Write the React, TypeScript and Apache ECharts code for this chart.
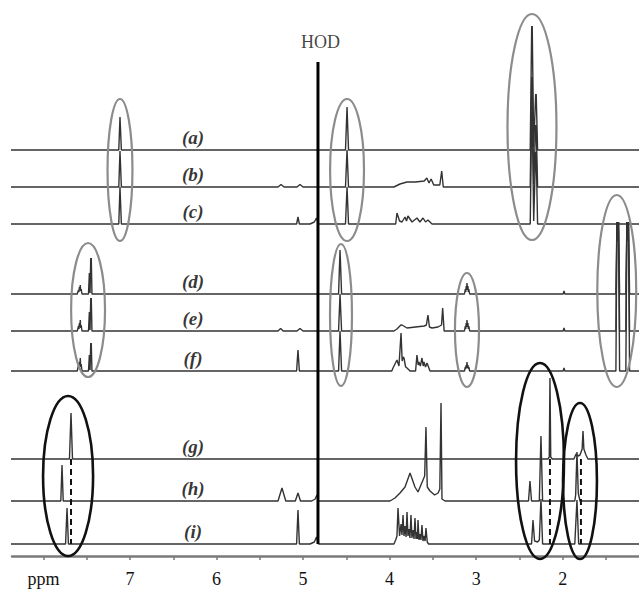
import React, { useEffect, useRef } from "react";
import * as echarts from "echarts";

// ppm axis range (inverted) and tick/label positions
const XMIN = 1.118;
const XMAX = 8.364;
const tickValues = [1.5, 2, 2.5, 3, 3.5, 4, 4.5, 5, 5.5, 6, 6.5, 7, 7.5, 8];
const labelValues = [2, 3, 4, 5, 6, 7, 8];

// spectra names and baseline offsets
const names = ["(a)", "(b)", "(c)", "(d)", "(e)", "(f)", "(g)", "(h)", "(i)"];
const baselines = [406, 369, 332, 262, 225, 185, 97, 55, 12];
const labelPpm = 6.272;

// each spectrum: trace vertices [ppm, intensity above its baseline]
const specA = [[8.4,0],[7.13,0],[7.116,33],[7.10,0],[4.51,0],[4.492,43],[4.475,0],[2.375,0],[2.358,124],[2.355,110],[2.352,124],[2.335,3],[2.312,56],[2.309,48],[2.306,56],[2.29,0],[1.1,0]];
const specB = [[8.4,0],[7.13,0],[7.116,36],[7.10,0],[5.29,0],[5.255,2.5],[5.22,0],[5.07,0],[5.036,2.5],[5.0,0],[4.51,0],[4.492,37],[4.475,0],[3.95,0],[3.88,3],[3.80,5],[3.70,5],[3.60,6],[3.57,9],[3.545,4],[3.52,8],[3.49,2],[3.42,2],[3.398,16],[3.38,0],[2.375,0],[2.358,110],[2.355,95],[2.352,110],[2.335,3],[2.312,62],[2.309,52],[2.306,62],[2.29,0],[1.1,0]];
const specC = [[8.4,0],[7.13,0],[7.116,37],[7.10,0],[5.075,0],[5.059,7],[5.043,0],[4.92,0],[4.87,2],[4.845,6],[4.82,0],[4.51,0],[4.492,37],[4.475,0],[3.93,0],[3.915,11],[3.885,3],[3.857,2],[3.822,7],[3.805,3],[3.788,8],[3.741,2],[3.684,6],[3.65,2],[3.614,6],[3.585,2],[3.557,4],[3.51,0],[2.375,0],[2.358,112],[2.355,95],[2.352,112],[2.335,3],[2.312,72],[2.309,60],[2.306,72],[2.29,0],[1.1,0]];
const specD = [[8.4,0],[7.61,0],[7.595,4],[7.59,2],[7.585,7],[7.58,4],[7.575,9],[7.57,3],[7.565,5],[7.555,0],[7.48,0],[7.47,21],[7.462,1],[7.454,36],[7.451,30],[7.448,36],[7.44,0],[4.59,0],[4.573,44],[4.555,0],[3.135,0],[3.125,5],[3.12,2],[3.115,8],[3.11,4],[3.106,11],[3.10,4],[3.095,8],[3.09,2],[3.085,5],[3.075,0],[1.995,0],[1.985,3],[1.975,0],[1.385,0],[1.373,72],[1.37,60],[1.367,72],[1.364,60],[1.361,72],[1.358,60],[1.355,72],[1.342,0],[1.27,0],[1.258,72],[1.255,60],[1.252,72],[1.249,60],[1.246,72],[1.243,60],[1.24,72],[1.227,0],[1.1,0]];
const specE = [[8.4,0],[7.61,0],[7.595,5],[7.59,2],[7.585,8],[7.58,4],[7.575,11],[7.57,3],[7.565,6],[7.555,0],[7.48,0],[7.47,19],[7.462,1],[7.454,33],[7.451,27],[7.448,33],[7.44,0],[5.29,0],[5.26,2.5],[5.23,0],[5.07,0],[5.036,2.5],[5.0,0],[4.59,0],[4.573,37],[4.555,0],[3.95,0],[3.915,2],[3.87,6],[3.857,6],[3.799,3],[3.70,4],[3.60,5],[3.575,6],[3.557,16],[3.54,4],[3.51,3],[3.441,4],[3.40,6],[3.387,23],[3.37,0],[3.135,0],[3.125,5],[3.12,2],[3.115,8],[3.11,4],[3.106,11],[3.10,4],[3.095,8],[3.09,2],[3.085,5],[3.075,0],[1.995,0],[1.985,3],[1.975,0],[1.385,0],[1.373,109],[1.37,95],[1.367,109],[1.364,95],[1.361,109],[1.358,95],[1.355,109],[1.342,0],[1.27,0],[1.258,109],[1.255,95],[1.252,109],[1.249,95],[1.246,109],[1.243,95],[1.24,109],[1.227,0],[1.1,0]];
const specF = [[8.4,0],[7.61,0],[7.595,6],[7.59,3],[7.585,9],[7.58,5],[7.575,13],[7.57,4],[7.565,7],[7.555,0],[7.48,0],[7.47,16],[7.462,1],[7.454,28],[7.451,22],[7.448,28],[7.44,0],[5.075,0],[5.059,21],[5.043,0],[4.59,0],[4.573,40],[4.555,0],[3.975,0],[3.961,3],[3.915,11],[3.892,5],[3.868,38],[3.855,10],[3.845,14],[3.834,13],[3.815,4],[3.799,3],[3.764,0],[3.70,0],[3.684,16],[3.67,6],[3.661,9],[3.645,5],[3.626,13],[3.612,5],[3.603,9],[3.585,4],[3.568,8],[3.533,0],[3.135,0],[3.125,4],[3.12,2],[3.115,6],[3.11,3],[3.106,9],[3.10,3],[3.095,6],[3.09,2],[3.085,4],[3.075,0],[1.995,0],[1.985,3],[1.975,0],[1.385,0],[1.373,149],[1.37,130],[1.367,149],[1.364,130],[1.361,149],[1.358,130],[1.355,149],[1.342,0],[1.27,0],[1.258,149],[1.255,130],[1.252,149],[1.249,130],[1.246,149],[1.243,130],[1.24,149],[1.227,0],[1.1,0]];
const specG = [[8.4,0],[7.70,0],[7.682,46],[7.665,0],[2.17,0],[2.155,2],[2.147,81],[2.138,2],[2.12,0],[1.87,0],[1.846,5],[1.823,3],[1.80,4],[1.775,10],[1.765,28],[1.755,10],[1.731,4],[1.708,0],[1.1,0]];
const specH = [[8.4,0],[7.80,0],[7.786,36],[7.772,0],[5.29,0],[5.244,13],[5.20,0],[5.09,0],[5.059,8],[5.03,0],[4.90,0],[4.86,2],[4.84,6],[4.82,0],[3.996,0],[3.938,3],[3.88,8],[3.822,14],[3.764,28],[3.707,14],[3.672,9],[3.614,21],[3.595,25],[3.58,74],[3.565,14],[3.533,10],[3.48,6],[3.44,8],[3.42,12],[3.406,98],[3.395,2],[3.36,0],[2.395,0],[2.378,20],[2.36,0],[2.27,0],[2.251,65],[2.232,0],[1.86,0],[1.85,6],[1.835,49],[1.82,8],[1.80,0],[1.1,0]];
const specI = [[8.4,0],[7.745,0],[7.728,36],[7.712,0],[5.075,0],[5.059,34],[5.043,0],[4.92,0],[4.87,2],[4.845,7],[4.82,0],[3.95,0],[3.93,4],[3.915,8],[3.903,36],[3.885,8],[3.868,20],[3.857,9],[3.845,29],[3.834,8],[3.822,18],[3.81,7],[3.799,32],[3.788,8],[3.776,15],[3.765,6],[3.753,29],[3.742,6],[3.73,14],[3.718,5],[3.707,26],[3.695,5],[3.684,12],[3.678,5],[3.672,24],[3.66,4],[3.649,10],[3.638,4],[3.626,19],[3.615,3],[3.603,8],[3.59,3],[3.58,16],[3.565,2],[3.55,0],[2.36,0],[2.343,24],[2.325,3],[2.29,2],[2.27,4],[2.251,45],[2.232,0],[1.86,0],[1.835,44],[1.815,0],[1.1,0]];
const spectra = [specA, specB, specC, specD, specE, specF, specG, specH, specI];

// HOD solvent line
const hodPpm = 4.828;
const hodTop = 494;
const hodLabelPos = [4.80, 514];

// dashed reference lines (g baseline down to i baseline)
const dashedPpm = [7.682, 2.147, 1.789];

// highlight ellipses: [ppm centre, y centre, ppm radius, y radius]
const greyEllipses = [
  [7.116, 386, 0.144, 71],
  [4.492, 386, 0.196, 71],
  [2.355, 429, 0.283, 113],
  [7.485, 246, 0.196, 67],
  [4.562, 241, 0.127, 71],
  [3.106, 226, 0.139, 57],
  [1.375, 265, 0.225, 96],
];
const blackEllipses = [
  [7.716, 80, 0.289, 80],
  [2.262, 95, 0.277, 98],
  [1.8, 75, 0.196, 78],
];

const SERIF = "'Liberation Serif', 'DejaVu Serif', serif";

function ellipseSeries(data: number[][], color: string, width: number) {
  return {
    type: "custom",
    data,
    clip: false,
    silent: true,
    z: 4,
    encode: { x: 0, y: 1 },
    renderItem: (params: any, api: any) => {
      const c = api.coord([api.value(0), api.value(1)]);
      const s = api.size([api.value(2), api.value(3)]);
      return {
        type: "ellipse",
        shape: { cx: c[0], cy: c[1], rx: Math.abs(s[0]), ry: Math.abs(s[1]) },
        style: { fill: "none", stroke: color, lineWidth: width },
      };
    },
  };
}

export default function App() {
  const ref = useRef<HTMLDivElement>(null);
  useEffect(() => {
    if (!ref.current) return;
    const chart = echarts.init(ref.current, null, { renderer: "svg" });
    const series: any[] = [];
    spectra.forEach((s, i) => {
      series.push({
        type: "line",
        data: s.map(([p, h]) => [p, baselines[i] + h]),
        symbol: "none",
        silent: true,
        z: 2,
        lineStyle: { color: "#333", width: 1.4 },
      });
    });
    dashedPpm.forEach((p) => {
      series.push({
        type: "line",
        data: [[p, baselines[6]], [p, baselines[8]]],
        symbol: "none",
        silent: true,
        z: 3,
        lineStyle: { color: "#111", width: 2, type: [6, 4] },
      });
    });
    series.push({
      type: "line",
      data: [[hodPpm, baselines[8]], [hodPpm, hodTop]],
      symbol: "none",
      silent: true,
      z: 5,
      lineStyle: { color: "#000", width: 3 },
    });
    series.push(ellipseSeries(greyEllipses, "#8c8c8c", 2.2));
    series.push(ellipseSeries(blackEllipses, "#111", 2.6));
    series.push({
      type: "scatter",
      symbolSize: 1,
      silent: true,
      z: 6,
      itemStyle: { color: "transparent" },
      data: names.map((n, i) => ({ name: n, value: [labelPpm, baselines[i] + 13] })),
      label: {
        show: true,
        position: "inside",
        formatter: "{b}",
        fontFamily: SERIF,
        fontStyle: "italic",
        fontWeight: "bold",
        fontSize: 19,
        color: "#000",
      },
    });
    series.push({
      type: "scatter",
      symbolSize: 1,
      silent: true,
      z: 6,
      itemStyle: { color: "transparent" },
      data: [{ name: "HOD", value: hodLabelPos }],
      label: {
        show: true,
        position: "inside",
        formatter: "{b}",
        fontFamily: SERIF,
        fontSize: 18,
        color: "#111",
      },
    });
    chart.setOption({
      animation: false,
      backgroundColor: "#fff",
      grid: { left: 12, right: 0, top: 0, bottom: 38 },
      xAxis: {
        type: "value",
        min: XMIN,
        max: XMAX,
        inverse: true,
        axisLine: { show: true, onZero: false, lineStyle: { color: "#7a7a7a", width: 2.5 } },
        axisTick: { show: true, customValues: tickValues, length: 4, lineStyle: { color: "#7a7a7a", width: 1.5 } },
        axisLabel: {
          show: true,
          customValues: labelValues,
          formatter: (v: number) => (v === 8 ? "ppm" : String(v)),
          fontFamily: SERIF,
          fontSize: 18,
          color: "#111",
          margin: 14,
        },
        splitLine: { show: false },
      },
      yAxis: { type: "value", min: 0, max: 556, show: false },
      series,
    });
    return () => chart.dispose();
  }, []);
  return (
    <div
      ref={ref}
      style={{ position: "fixed", left: 0, top: 0, width: 639, height: 594, background: "#fff" }}
    />
  );
}
